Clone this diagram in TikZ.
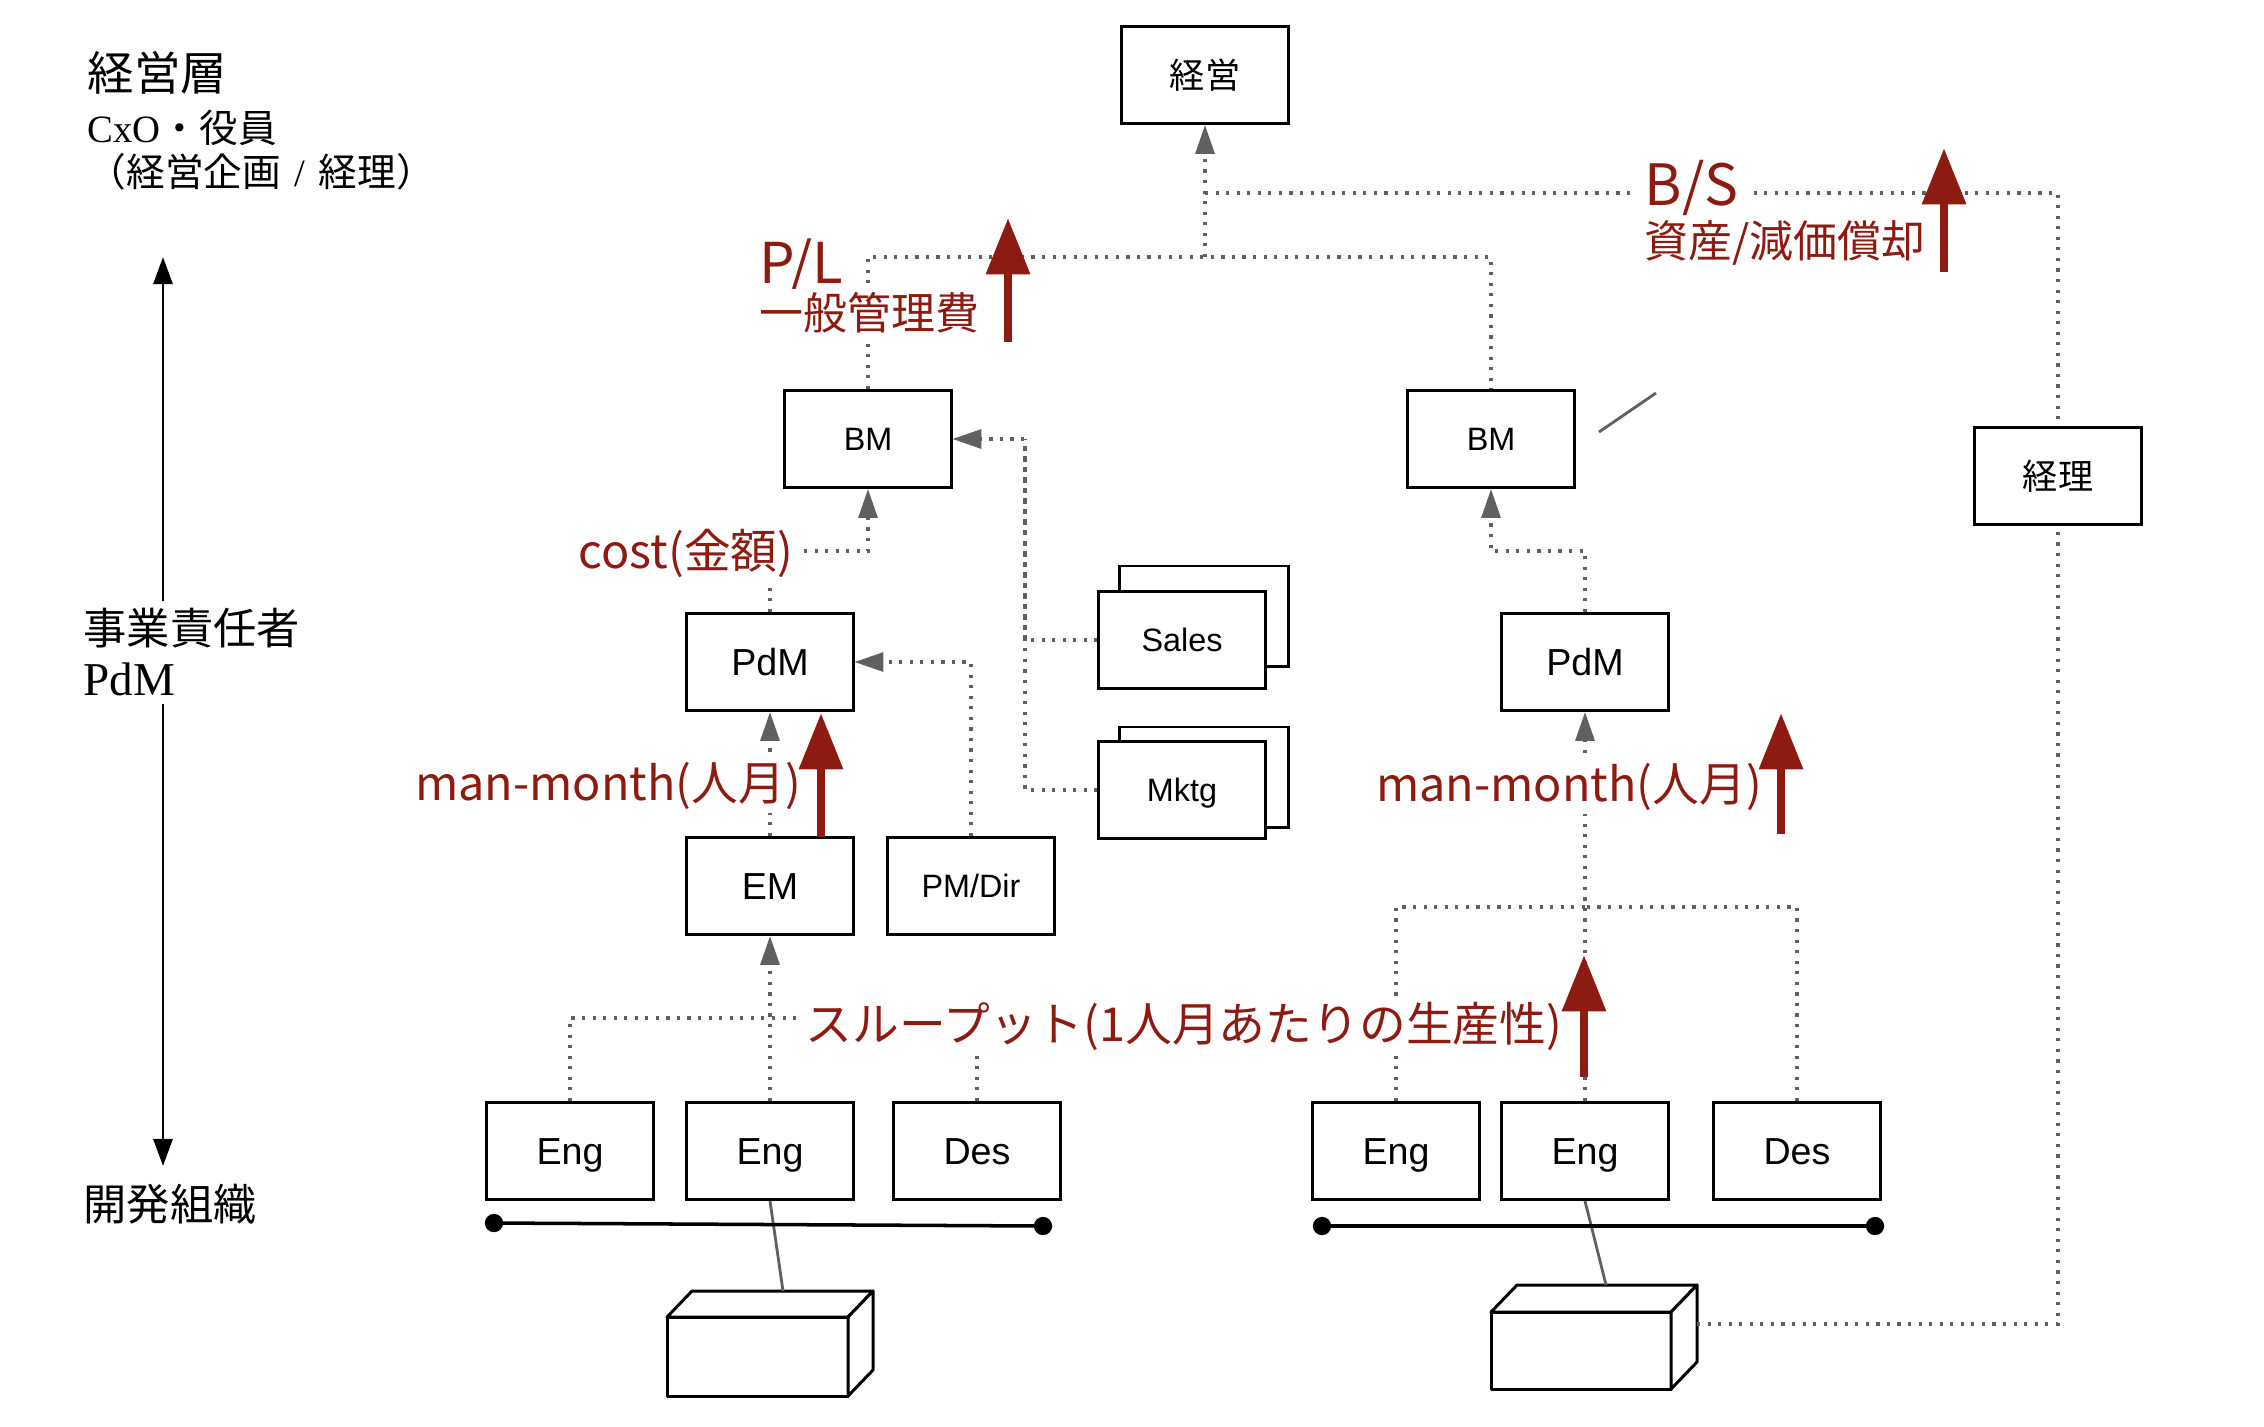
\documentclass[tikz,border=0pt]{standalone}
\usepackage{fontspec}
\setmainfont{Liberation Sans}
\newfontfamily\jp{Noto Sans CJK JP}
\newfontfamily\serifrm{Liberation Serif}
\usetikzlibrary{arrows.meta,backgrounds,calc}
\definecolor{myred}{RGB}{142,27,18}
\definecolor{dotgray}{RGB}{96,96,96}
\begin{document}
\begin{tikzpicture}[x=0.01cm,y=-0.01cm,
 box/.style={draw=black,line width=0.85pt,fill=white,minimum width=1.66cm,minimum height=0.97cm,inner sep=0pt,font=\fontsize{10.7}{12}\selectfont,text height=7.66pt,text depth=0pt},
 sbox/.style={box,font=\fontsize{9.2}{11}\selectfont,text height=6.59pt,text depth=0pt},
 jbox/.style={box,font=\jp\fontsize{10}{12}\selectfont,text height=,text depth=},
 dotline/.style={draw=dotgray,line width=0.9pt,dash pattern=on 0.9pt off 2.1pt},
 gtip/.style={-{Triangle[width=5.4pt,length=8.2pt]}},
 redarrow/.style={draw=myred,line width=2.5pt,-{Triangle[width=12pt,length=16pt]}},
 redlbl/.style={text=myred,font=\jp\fontsize{13.3}{16}\selectfont,fill=white,inner sep=1pt},
 leftlbl/.style={anchor=west,inner sep=0pt},
 solidgray/.style={draw=dotgray,line width=0.8pt},
 barline/.style={draw=black,line width=1pt},
 cubeface/.style={draw=black,line width=0.85pt,fill=white,line join=round},
 blackarrow/.style={draw=black,line width=0.85pt,-{Triangle[width=5.4pt,length=7.7pt]}},
]
\useasboundingbox (0,0) rectangle (2264,1426);

% ---------- nodes ----------
\node[jbox] (keiei) at (1205,75) {経営};
\node[sbox] (bm1) at (868,439) {BM};
\node[sbox] (bm2) at (1491,439) {BM};
\node[jbox] (keiri) at (2058,476) {経理};
\node[box] (pdm1) at (770,662) {PdM};
\node[box] (pdm2) at (1585,662) {PdM};
\node[sbox] (sales) at (1182,640) {Sales};
\node[sbox] (mktg) at (1182,790) {Mktg};
\node[box] (em) at (770,886) {EM};
\node[sbox] (pmdir) at (971,886) {PM/Dir};
\node[box] (eng1) at (570,1151) {Eng};
\node[box] (eng2) at (770,1151) {Eng};
\node[box] (des1) at (977,1151) {Des};
\node[box] (eng3) at (1396,1151) {Eng};
\node[box] (eng4) at (1585,1151) {Eng};
\node[box] (des2) at (1797,1151) {Des};

\begin{scope}[on background layer]
 \fill[white] (0,0) rectangle (2264,1426);
 \draw[line width=0.85pt,fill=white] ([shift={(22,-24)}]sales.south west) rectangle ([shift={(22,-24)}]sales.north east);
 \draw[line width=0.85pt,fill=white] ([shift={(22,-13)}]mktg.south west) rectangle ([shift={(22,-13)}]mktg.north east);
\end{scope}

% ---------- left axis ----------
\node[leftlbl,font=\jp\fontsize{13.2}{15}\selectfont] (t1) at (87,73) {経営層};
\node[leftlbl,font=\fontsize{11}{13}\selectfont] (t2) at (87,128) {{\serifrm CxO}{\jp ・役員}};
\node[leftlbl,font=\jp\fontsize{11}{13}\selectfont] (t3) at (87,172) {（経営企画\hspace{0.35em}{\serifrm /}\hspace{0.35em}経理）};
\node[leftlbl,font=\jp\fontsize{12.3}{14}\selectfont] (t4) at (83,628) {事業責任者};
\node[leftlbl,font=\serifrm\fontsize{13.4}{15}\selectfont] (t5) at (83,679) {PdM};
\node[leftlbl,font=\jp\fontsize{12.3}{14}\selectfont] (t6) at (83,1204) {開発組織};
\coordinate (la0) at (163,257);
\coordinate (la1) at (163,601);
\coordinate (la2) at (163,704);
\coordinate (la3) at (163,1166);
\draw[blackarrow] (la1) -- (la0);
\draw[blackarrow] (la2) -- (la3);

% ---------- cubes ----------
\coordinate (cubeLtop) at (783,1291);
\coordinate (cubeRtop) at (1606,1285);
\coordinate (cubeRright) at (1697,1324);
\draw[cubeface] (667,1317) rectangle (848,1396);
\draw[cubeface] (667,1317) -- (692,1291) -- (873,1291) -- (848,1317) -- cycle;
\draw[cubeface] (848,1317) -- (873,1291) -- (873,1370) -- (848,1396) -- cycle;
\draw[cubeface] (1491,1312) rectangle (1671,1389);
\draw[cubeface] (1491,1312) -- (1517,1285) -- (1697,1285) -- (1671,1312) -- cycle;
\draw[cubeface] (1671,1312) -- (1697,1285) -- (1697,1362) -- (1671,1389) -- cycle;

% ---------- connectors ----------
\coordinate (j1) at (1205,257);
\coordinate (j2) at (1205,193);
\draw[dotline] (bm1.north) |- (j1) -| (bm2.north);
\draw[dotline,gtip] (j1) -- (keiei.south);
\draw[dotline] (j2) -| (keiri.north);
\draw[dotline] (cubeRright) -| (keiri.south);
\coordinate (c1) at (868,551);
\draw[dotline,gtip] (pdm1.north) |- (c1) -- (bm1.south);
\draw[dotline,gtip] (em.north) -- (pdm1.south);
\draw[dotline,gtip] (pmdir.north) |- (pdm1.east);
\coordinate (c2) at (1025,439);
\draw[dotline,gtip] (sales.west) -| (c2) -- (bm1.east);
\draw[dotline] (mktg.west) -| (c2);
\coordinate (c3) at (770,1018);
\draw[dotline] (eng1.north) |- (c3);
\draw[dotline] (des1.north) |- (c3);
\draw[dotline,gtip] (eng2.north) -- (em.south);
\coordinate (c4) at (1585,907);
\draw[dotline] (eng3.north) |- (c4);
\draw[dotline] (des2.north) |- (c4);
\draw[dotline,gtip] (eng4.north) -- (pdm2.south);
\coordinate (c5) at (1491,551);
\draw[dotline,gtip] (pdm2.north) |- (c5) -- (bm2.south);

\draw[solidgray] (eng2.south) -- (cubeLtop);
\draw[solidgray] (eng4.south) -- (cubeRtop);
\coordinate (sl1) at (1599,432);
\coordinate (sl2) at (1656,393);
\draw[solidgray] (sl1) -- (sl2);

% ---------- bars ----------
\coordinate (barL1) at (494,1223);
\coordinate (barL2) at (1043,1226);
\coordinate (barR1) at (1322,1226);
\coordinate (barR2) at (1875,1226);
\draw[barline] (barL1) -- (barL2);
\draw[barline] (barR1) -- (barR2);
\fill (barL1) circle[radius=2.6pt];
\fill (barL2) circle[radius=2.6pt];
\fill (barR1) circle[radius=2.6pt];
\fill (barR2) circle[radius=2.6pt];

% ---------- red labels ----------
\node[redlbl,anchor=base west,font=\jp\fontsize{16}{18}\selectfont,fill=none] (pl) at (755,283) {P/L};
\node[redlbl,anchor=west,font=\jp\fontsize{12.5}{14}\selectfont] (plsub) at (755,313) {一般管理費};
\node[redlbl,anchor=base west,font=\jp\fontsize{16.2}{18}\selectfont,inner sep=2pt] (bs) at (1637,205) {B/S};
\node[redlbl,anchor=west,font=\jp\fontsize{12.5}{14}\selectfont] (bssub) at (1640,243) {資産/減価償却};
\node[redlbl] (cost) at (686,553) {cost(金額)};
\node[redlbl] (mm1) at (608,786) {man-month(人月)};
\node[redlbl] (mm2) at (1569,787) {man-month(人月)};
\node[redlbl] (tp) at (1184,1026) {スループット(1人月あたりの生産性)};

% ---------- red arrows ----------
\coordinate (pla) at (1008,342); \coordinate (plb) at (1008,218);
\coordinate (bsa) at (1944,272); \coordinate (bsb) at (1944,148);
\coordinate (ema) at (821,837); \coordinate (emb) at (821,713);
\coordinate (mra) at (1781,834); \coordinate (mrb) at (1781,713);
\coordinate (tpa) at (1584,1077); \coordinate (tpb) at (1584,955);
\draw[redarrow] (pla) -- (plb);
\draw[redarrow] (bsa) -- (bsb);
\draw[redarrow] (ema) -- (emb);
\draw[redarrow] (mra) -- (mrb);
\draw[redarrow] (tpa) -- (tpb);
\end{tikzpicture}
\end{document}
